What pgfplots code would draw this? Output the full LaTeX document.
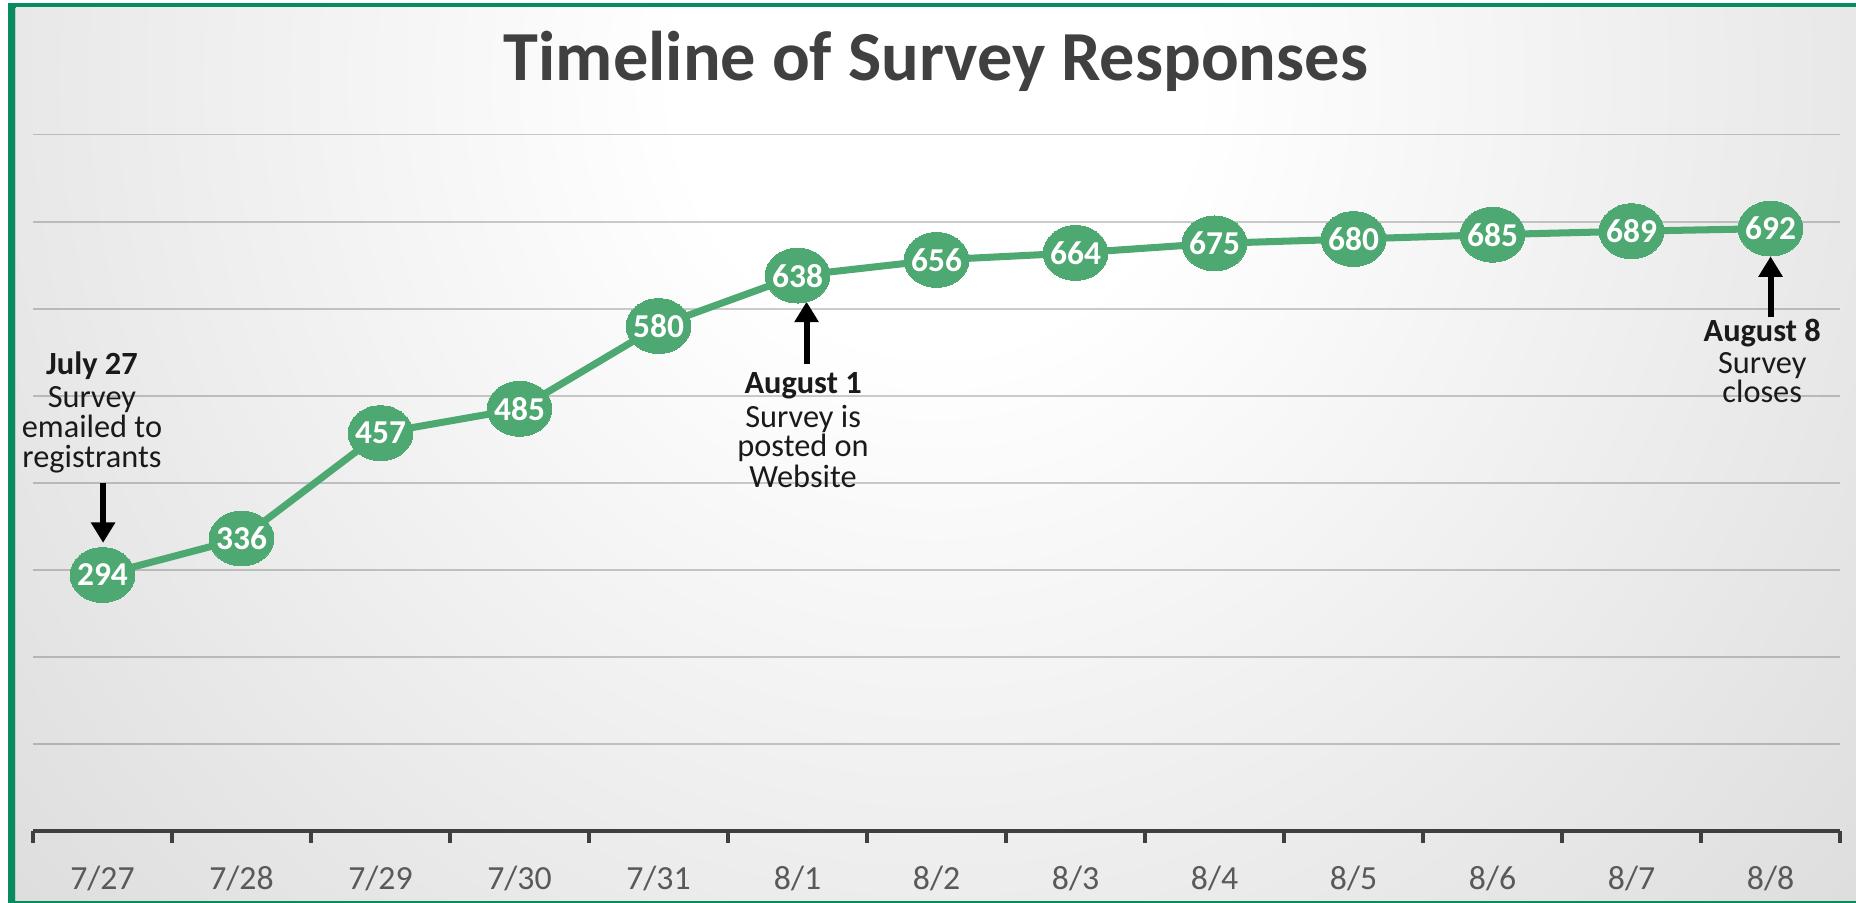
\documentclass[border=0pt]{standalone}
\usepackage{fontspec}
\setmainfont{Carlito}
\usepackage{pgfplots}
\pgfplotsset{compat=1.18}
\usetikzlibrary{arrows.meta}

\definecolor{framegreen}{HTML}{078C5E}
\definecolor{bgout}{HTML}{C8C8C8}
\definecolor{ptgreen}{HTML}{4EA872}
\definecolor{titlegray}{HTML}{404040}
\definecolor{ticktext}{HTML}{595959}
\definecolor{axisdark}{HTML}{3F3F3F}
\definecolor{notetext}{HTML}{1A1A1A}

\pgfdeclareradialshading{panelshade}{\pgfpoint{0bp}{0bp}}{%
  color(0bp)=(white); color(7bp)=(white); color(50bp)=(bgout)}

\begin{document}
\begin{tikzpicture}[x=0.01cm, y=0.01cm]
  % canvas, green frame and shaded panel
  \fill[white] (0,0) rectangle (1856,903);
  \fill[framegreen] (8,0) rectangle (1856,900);
  \begin{scope}
    \clip (15,2) rectangle (1856,895);
    \fill[bgout] (15,2) rectangle (1856,895);
    \shade[shading=panelshade] (16,-127) rectangle (1856,1773);
  \end{scope}

  % chart title
  \node[anchor=base, font=\fontsize{20}{24}\selectfont\bfseries, text=titlegray, inner sep=0pt]
    at (936,822) {Timeline of Survey Responses};

  \begin{axis}[
    at={(0.33cm,0.72cm)}, anchor=south west,
    scale only axis, width=18.06cm, height=6.96cm,
    xmin=-0.5, xmax=12.5, ymin=0, ymax=800,
    clip=false,
    axis x line*=bottom, axis y line*=left,
    y axis line style={draw=none},
    x axis line style={-, line width=1.2pt, color=axisdark},
    xtick={-0.5,0.5,1.5,2.5,3.5,4.5,5.5,6.5,7.5,8.5,9.5,10.5,11.5,12.5},
    x tick label as interval,
    xticklabels={7/27,7/28,7/29,7/30,7/31,8/1,8/2,8/3,8/4,8/5,8/6,8/7,8/8},
    xtick align=outside,
    major tick length=0.12cm,
    x tick style={line width=1.2pt, color=axisdark},
    xticklabel style={font=\fontsize{9.6}{11}\selectfont, text=ticktext, yshift=-3pt},
    ytick={100,200,300,400,500,600,700,800},
    yticklabels={},
    y tick style={draw=none},
    ymajorgrids=true,
    major grid style={line width=0.5pt, black, opacity=0.2},
    /pgf/number format/assume math mode=true,
  ]
    % cumulative responses per day
    \addplot[color=ptgreen, line width=2pt,
      mark=*, mark size=7.8pt,
      mark options={fill=ptgreen, draw=ptgreen, line width=0pt, xscale=1.18},
      nodes near coords, nodes near coords align={center},
      every node near coord/.append style={anchor=center, text=white,
        font=\fontsize{9.5}{11}\selectfont\bfseries, inner sep=0pt}]
      coordinates {
        (0,294) (1,336) (2,457) (3,485) (4,580) (5,638) (6,656)
        (7,664) (8,675) (9,680) (10,685) (11,689) (12,692)
      };

    % milestone notes
    \tikzset{note/.style={anchor=base, inner sep=0pt, text=notetext,
        font=\fontsize{9.2}{10}\selectfont},
      notebold/.style={note, font=\fontsize{9.2}{10}\selectfont\bfseries},
      pointer/.style={line width=1.7pt, black, -{Triangle[width=6.6pt, length=5.8pt]}}}

    \node[notebold] at (axis cs:-0.076,524) {July 27};
    \node[note] at (axis cs:-0.076,486) {Survey};
    \node[note] at (axis cs:-0.076,452) {emailed to};
    \node[note] at (axis cs:-0.076,417) {registrants};
    \draw[pointer] (axis cs:0.004,400) -- (axis cs:0.004,331);

    \node[notebold] at (axis cs:5.04,503) {August 1};
    \node[note] at (axis cs:5.04,464) {Survey is};
    \node[note] at (axis cs:5.04,430) {posted on};
    \node[note] at (axis cs:5.04,394) {Website};
    \draw[pointer] (axis cs:5.065,536) -- (axis cs:5.065,608);

    \node[notebold] at (axis cs:11.94,562) {August 8};
    \node[note] at (axis cs:11.94,526) {Survey};
    \node[note] at (axis cs:11.94,492) {closes};
    \draw[pointer] (axis cs:12,590) -- (axis cs:12,660);
  \end{axis}
\end{tikzpicture}
\end{document}
